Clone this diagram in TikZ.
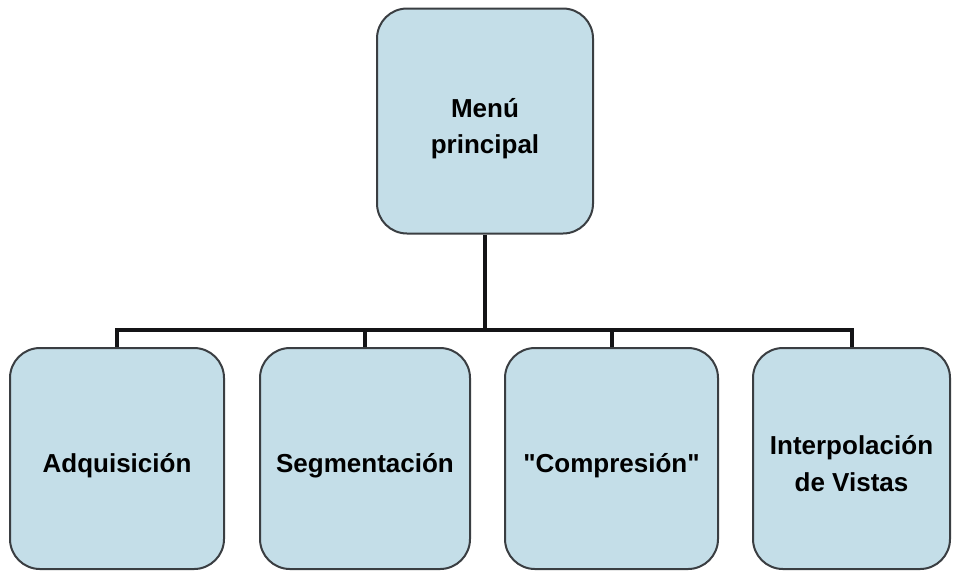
\documentclass[tikz,border=0pt]{standalone}
\usepackage{fontspec}
\setmainfont{Liberation Sans}[Ligatures=TeXOff]
\usetikzlibrary{calc}

\tikzset{every picture/.style={line width=0.75pt}}
\tikzset{
  menubox/.style={draw={rgb, 255:red, 58; green, 62; blue, 66 }, line width=1.5,
    fill={rgb, 255:red, 196; green, 222; blue, 232 }, rounded corners=22.5pt,
    align=center, inner sep=0.75pt, font=\fontsize{19.5}{27.5}\selectfont\bfseries,
    text height=25.5pt, text depth=4pt},
  twolines/.style={text height=49pt, text depth=0pt},
  treeline/.style={draw={rgb, 255:red, 20; green, 20; blue, 22 }, line width=3}
}

\begin{document}
\begin{tikzpicture}[x=0.75pt,y=0.75pt,yscale=-1,xscale=1]
    \useasboundingbox (0,0) rectangle (955,572);

    % Top box
    \node [menubox, twolines, minimum width=162pt, minimum height=168.75pt] (menu) at (485,121) {Menú\\principal};
    % Bottom boxes
    \node [menubox, minimum width=160.5pt, minimum height=165.75pt] (adq) at (117,458.5) {Adquisición};
    \node [menubox, minimum width=157.5pt, minimum height=165.75pt] (seg) at (365,458.5) {Segmentación};
    \node [menubox, minimum width=159.75pt, minimum height=165.75pt] (comp) at (611.5,458.5) {"Compresión"};
    \node [menubox, twolines, minimum width=147.75pt, minimum height=165.75pt] (interp) at (851.5,458.5) {Interpolación\\de Vistas};

    % Bus
    \coordinate (bus) at (485,330);

    % Connectors
    \draw [treeline] (menu.south) -- (menu.south |- bus);
    \draw [treeline] (adq.north) |- (interp.north |- bus) -- (interp.north);
    \foreach \n in {seg,comp}
      \draw [treeline] (\n.north) -- (\n.north |- bus);

\end{tikzpicture}
\end{document}
